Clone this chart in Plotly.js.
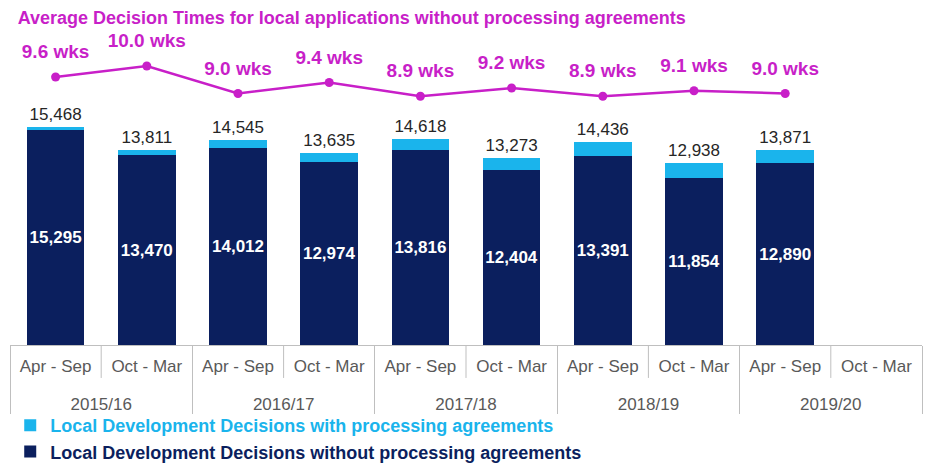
<!DOCTYPE html>
<html>
<head>
<meta charset="utf-8">
<script src="https://cdn.plot.ly/plotly-3.0.1.min.js"></script>
<style>html,body{margin:0;padding:0;background:#fff;}#chart{width:930px;height:463px;}</style>
</head>
<body>
<div id="chart"></div>
<script>
const years = ['2015/16','2015/16','2016/17','2016/17','2017/18','2017/18','2018/19','2018/19','2019/20','2019/20'];
const halves = ['Apr - Sep','Oct - Mar','Apr - Sep','Oct - Mar','Apr - Sep','Oct - Mar','Apr - Sep','Oct - Mar','Apr - Sep','Oct - Mar'];
const withoutPA = [15295, 13470, 14012, 12974, 13816, 12404, 13391, 11854, 12890, null];
const withPA = [173, 341, 533, 661, 802, 869, 1045, 1084, 981, null];
const totals = [15468, 13811, 14545, 13635, 14618, 13273, 14436, 12938, 13871, null];
const weeks = [9.6, 10.0, 9.0, 9.4, 8.9, 9.2, 8.9, 9.1, 9.0, null];

const NAVY = '#0b1f5e';
const LIGHT = '#1ab4ec';
const MAG = '#c81fc8';
const GRID = '#bfbfbf';
const FONT = 'Liberation Sans, Arial, sans-serif';
const fmt = v => v == null ? '' : v.toLocaleString('en-US');

// leading line break only drops the year row a little lower under the half-year row
const x = [years.map(y => '<br>' + y), halves];

const traces = [
  {
    type: 'bar', x: x, y: withoutPA, name: 'Local Development Decisions without processing agreements',
    marker: {color: NAVY},
    text: withoutPA.map(fmt), textposition: 'inside', insidetextanchor: 'middle', constraintext: 'none', textangle: 0,
    textfont: {family: FONT, size: 17, color: '#ffffff', weight: 'bold'},
    hoverinfo: 'skip'
  },
  {
    type: 'bar', x: x, y: withPA,
    name: '<span style="color:' + LIGHT + '">Local Development Decisions with processing agreements</span>',
    marker: {color: LIGHT},
    text: totals.map(fmt), textposition: 'outside', constraintext: 'none', textangle: 0,
    outsidetextfont: {family: FONT, size: 17, color: '#262626'},
    insidetextfont: {family: FONT, size: 17, color: '#262626'},
    cliponaxis: false,
    hoverinfo: 'skip'
  },
  {
    type: 'scatter', mode: 'lines+markers', x: x, y: weeks, yaxis: 'y2',
    line: {color: MAG, width: 2.5}, marker: {color: MAG, size: 9},
    showlegend: false, cliponaxis: false, connectgaps: false, hoverinfo: 'skip'
  },
  {
    type: 'scatter', mode: 'markers+text', x: x, y: weeks, yaxis: 'y2',
    marker: {color: 'rgba(0,0,0,0)', size: 21},
    text: weeks.map(v => v == null ? '' : v.toFixed(1) + ' wks'), textposition: 'top center',
    textfont: {family: FONT, size: 19, color: MAG, weight: 'bold'},
    showlegend: false, cliponaxis: false, hoverinfo: 'skip'
  }
];

const shapes = [0.1, 0.3, 0.5, 0.7, 0.9].map(p => ({
  type: 'line', xref: 'paper', yref: 'paper', x0: p, x1: p, y0: 0, y1: -0.108,
  line: {color: GRID, width: 1}
}));

const layout = {
  width: 930, height: 463,
  margin: {l: 10, r: 8, t: 40, b: 118, autoexpand: false},
  paper_bgcolor: '#ffffff', plot_bgcolor: '#ffffff',
  font: {family: FONT, color: '#595959'},
  barmode: 'stack', bargap: 0.37,
  title: {
    text: '<b>Average Decision Times for local applications without processing agreements</b>',
    font: {family: FONT, size: 18, color: MAG},
    xref: 'container', x: 0.019, xanchor: 'left',
    yref: 'container', y: 0.962, yanchor: 'middle'
  },
  xaxis: {
    type: 'multicategory', automargin: false, range: [-0.5, 9.5], autorange: false,
    showline: true, linecolor: GRID, linewidth: 1,
    ticks: '', ticklabelstandoff: 6,
    showdividers: true, dividercolor: GRID, dividerwidth: 1,
    tickfont: {family: FONT, size: 17, color: '#595959'},
    showgrid: false, zeroline: false, fixedrange: true
  },
  yaxis: {range: [0, 21650], visible: false, showgrid: false, zeroline: false, automargin: false},
  yaxis2: {range: [-0.145, 10.945], overlaying: 'y', visible: false, showgrid: false, zeroline: false, automargin: false},
  shapes: shapes,
  showlegend: true,
  legend: {
    orientation: 'v', xref: 'container', yref: 'container',
    x: 0.011, xanchor: 'left', y: 0.121, yanchor: 'top',
    font: {family: FONT, size: 18, color: NAVY, weight: 'bold'},
    traceorder: 'reversed', tracegroupgap: 0, itemwidth: 30,
    bgcolor: 'rgba(0,0,0,0)'
  }
};

Plotly.newPlot('chart', traces, layout, {displayModeBar: false, staticPlot: true});
</script>
</body>
</html>
